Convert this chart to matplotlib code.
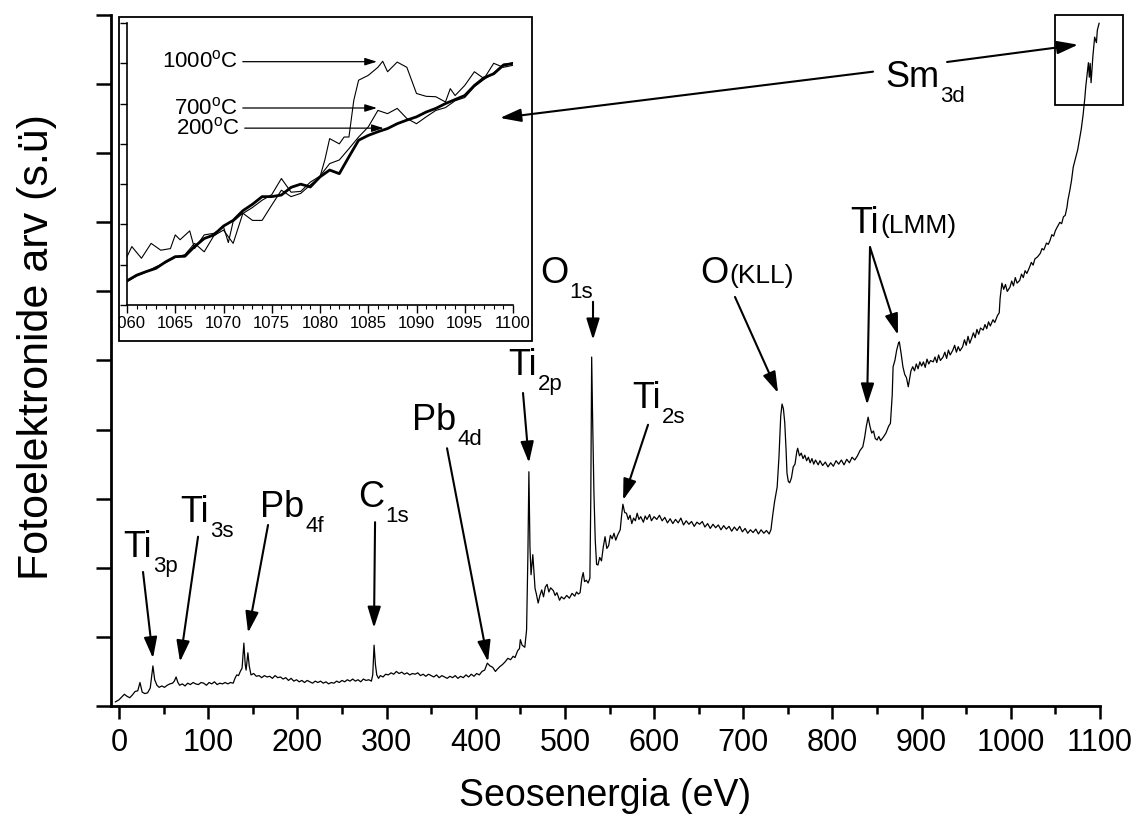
import numpy as np
import matplotlib
matplotlib.use('Agg')
import matplotlib.pyplot as plt
from matplotlib.patches import Rectangle
from matplotlib.transforms import Bbox, TransformedBbox

plt.rcParams['font.family'] = ['Liberation Sans', 'DejaVu Sans']
plt.rcParams['mathtext.fontset'] = 'custom'
plt.rcParams['mathtext.rm'] = 'Liberation Sans'

# survey spectrum, (binding energy eV, intensity a.u.)
survey = [
    (-4, 0.06), (0, 0.09), (3, 0.13), (6, 0.17), (9, 0.14), (12, 0.12), (15, 0.16), (18, 0.21),
    (21, 0.22), (23.5, 0.34), (26, 0.2), (29, 0.18), (32, 0.19), (35, 0.26), (38, 0.58), (40, 0.38),
    (42.5, 0.3), (45, 0.27), (48, 0.29), (51, 0.27), (54, 0.3), (57, 0.32), (60, 0.33), (62, 0.36),
    (64, 0.42), (66, 0.34), (68, 0.3), (71, 0.32), (74, 0.29), (77, 0.33), (80, 0.31), (83, 0.34),
    (86, 0.32), (89, 0.31), (92, 0.34), (95, 0.33), (98, 0.3), (101, 0.34), (104, 0.32), (107, 0.35),
    (110, 0.31), (113, 0.33), (116, 0.32), (119, 0.34), (122, 0.32), (125, 0.34), (128, 0.33),
    (130, 0.4), (132, 0.45), (134, 0.44), (136, 0.5), (138, 0.55), (140, 0.91), (141.5, 0.6),
    (142.5, 0.52), (144.5, 0.77), (146, 0.58), (148, 0.45), (151, 0.47), (154, 0.43), (157, 0.44),
    (160, 0.41), (163, 0.44), (166, 0.42), (169, 0.43), (172, 0.4), (175, 0.44), (178, 0.41),
    (181, 0.42), (184, 0.39), (187, 0.41), (190, 0.37), (193, 0.4), (196, 0.36), (199, 0.38),
    (202, 0.35), (205, 0.37), (208, 0.34), (211, 0.37), (214, 0.35), (217, 0.33), (220, 0.36),
    (223, 0.34), (226, 0.36), (229, 0.33), (232, 0.35), (235, 0.32), (238, 0.34), (241, 0.33),
    (244, 0.36), (247, 0.34), (250, 0.37), (253, 0.35), (256, 0.38), (259, 0.36), (262, 0.39),
    (265, 0.36), (268, 0.38), (271, 0.35), (274, 0.39), (277, 0.37), (280, 0.38), (283, 0.36),
    (284.5, 0.45), (286, 0.88), (287.5, 0.6), (289, 0.45), (291, 0.4), (293, 0.44), (296, 0.42),
    (299, 0.46), (302, 0.45), (305, 0.48), (308, 0.46), (311, 0.5), (314, 0.47), (317, 0.49),
    (320, 0.46), (323, 0.48), (326, 0.45), (329, 0.47), (332, 0.46), (335, 0.48), (338, 0.44),
    (341, 0.46), (344, 0.43), (347, 0.46), (350, 0.44), (353, 0.42), (356, 0.45), (359, 0.41),
    (362, 0.44), (365, 0.42), (368, 0.4), (371, 0.43), (374, 0.41), (377, 0.44), (380, 0.4),
    (383, 0.43), (386, 0.41), (389, 0.45), (392, 0.42), (395, 0.46), (398, 0.43), (401, 0.47),
    (404, 0.45), (407, 0.5), (410, 0.52), (413, 0.62), (416, 0.58), (419, 0.56), (422, 0.5),
    (424, 0.53), (427, 0.57), (430, 0.6), (433, 0.64), (436, 0.69), (439, 0.67), (442, 0.72),
    (444, 0.7), (447, 0.8), (449, 0.83), (450, 0.96), (452, 0.88), (455, 0.85), (457, 1.1),
    (458.5, 2.2), (459.6, 3.39), (460.8, 2.3), (462, 1.9), (463, 2.05), (464, 2.19), (465.5, 1.9),
    (466.5, 1.7), (468, 1.62), (470, 1.49), (472, 1.6), (474, 1.68), (476, 1.58), (478, 1.72),
    (480, 1.76), (482, 1.65), (484, 1.71), (487, 1.67), (489, 1.6), (491, 1.64), (494, 1.53),
    (496, 1.58), (499, 1.55), (502, 1.6), (505, 1.56), (508, 1.63), (511, 1.59), (513, 1.65),
    (515, 1.62), (517, 1.64), (519, 1.85), (520.5, 1.93), (522, 1.8), (524, 1.82), (526, 1.78),
    (528, 1.85), (529, 3.0), (530, 5.05), (531, 4.2), (532.5, 3.1), (534, 2.4), (535.5, 2.05),
    (537, 2.04), (539, 2.15), (541, 2.1), (543, 2.3), (545, 2.45), (547, 2.28), (549, 2.32),
    (551, 2.47), (553, 2.42), (555, 2.5), (557, 2.4), (559, 2.47), (562, 2.55), (563.5, 2.75),
    (565, 2.92), (567, 2.8), (569, 2.79), (571, 2.7), (573, 2.76), (575, 2.64), (577, 2.72),
    (579, 2.68), (581, 2.79), (583, 2.7), (585, 2.74), (588, 2.66), (590, 2.75), (592, 2.7),
    (595, 2.77), (597, 2.68), (600, 2.74), (603, 2.7), (606, 2.76), (609, 2.68), (612, 2.73),
    (615, 2.65), (618, 2.71), (621, 2.64), (624, 2.7), (627, 2.65), (630, 2.72), (633, 2.62),
    (636, 2.68), (639, 2.63), (642, 2.67), (645, 2.6), (648, 2.66), (651, 2.63), (654, 2.67),
    (657, 2.59), (660, 2.64), (663, 2.57), (666, 2.63), (669, 2.58), (672, 2.62), (675, 2.55),
    (678, 2.61), (681, 2.56), (684, 2.6), (687, 2.53), (690, 2.59), (693, 2.54), (696, 2.6),
    (699, 2.52), (702, 2.57), (705, 2.5), (708, 2.55), (711, 2.51), (714, 2.56), (717, 2.49),
    (720, 2.55), (723, 2.5), (726, 2.54), (729, 2.49), (731, 2.55), (733, 2.76), (735, 2.95),
    (738, 3.17), (740, 3.6), (742, 4.2), (743.5, 4.37), (745, 4.3), (746.5, 4.1), (748, 3.7),
    (749, 3.37), (750.5, 3.25), (752, 3.23), (754, 3.3), (756, 3.46), (758, 3.5), (760, 3.68),
    (761, 3.73), (763, 3.62), (765, 3.66), (767, 3.58), (769, 3.63), (771, 3.55), (773, 3.6),
    (775, 3.52), (777, 3.58), (779, 3.5), (781, 3.56), (784, 3.49), (786, 3.55), (789, 3.48),
    (792, 3.53), (795, 3.46), (798, 3.52), (801, 3.47), (804, 3.55), (807, 3.5), (810, 3.56),
    (813, 3.49), (816, 3.57), (819, 3.52), (822, 3.6), (825, 3.56), (828, 3.62), (831, 3.7),
    (834, 3.75), (836, 3.88), (838, 4.05), (840, 4.18), (842, 4.05), (844, 3.95), (846, 3.98),
    (848, 3.87), (850, 3.85), (852, 3.9), (854, 3.84), (857, 3.89), (860, 3.95), (863, 4.05),
    (865, 4.09), (867, 4.5), (868, 4.91), (870, 5.0), (872, 5.15), (874, 5.25), (875, 5.27),
    (877, 5.1), (879, 4.91), (881, 4.8), (883, 4.75), (885, 4.62), (886, 4.7), (888, 4.85),
    (890, 4.91), (892, 4.85), (894, 4.95), (896, 4.88), (898, 4.98), (900, 4.92), (902, 4.98),
    (904, 4.9), (906, 5.02), (908, 4.95), (910, 5.0), (913, 4.98), (915, 5.05), (917, 4.97),
    (919, 5.08), (921, 5.0), (924, 5.05), (926, 5.12), (928, 5.03), (930, 5.15), (932, 5.08),
    (935, 5.15), (937, 5.22), (939, 5.12), (941, 5.2), (943, 5.14), (946, 5.2), (948, 5.3),
    (950, 5.22), (952, 5.35), (954, 5.25), (956, 5.32), (958, 5.4), (960, 5.33), (962, 5.45),
    (964, 5.38), (966, 5.47), (969, 5.44), (971, 5.52), (973, 5.46), (975, 5.56), (977, 5.5),
    (980, 5.59), (982, 5.55), (985, 5.65), (987, 5.69), (988, 5.9), (990, 6.12), (992, 6.03),
    (994, 6.1), (996, 6.0), (999, 6.06), (1001, 6.15), (1003, 6.08), (1005, 6.2), (1007, 6.12),
    (1010, 6.16), (1012, 6.25), (1014, 6.2), (1016, 6.3), (1018, 6.26), (1021, 6.35), (1023, 6.42),
    (1025, 6.38), (1027, 6.47), (1030, 6.5), (1033, 6.55), (1035, 6.62), (1037, 6.6), (1040, 6.7),
    (1042, 6.68), (1044, 6.74), (1046, 6.82), (1048, 6.8), (1050, 6.88), (1052, 6.93), (1055, 7.0),
    (1057, 6.98), (1059, 7.08), (1061, 7.1), (1063, 7.22), (1064, 7.32), (1066, 7.45), (1068, 7.6),
    (1070, 7.8), (1072, 7.9), (1075, 8.05), (1077, 8.2), (1079, 8.35), (1081, 8.55), (1083, 8.8),
    (1084, 8.96), (1086, 9.2), (1087, 9.31), (1088, 9.1), (1089, 9.3), (1090, 9.02), (1092, 9.4),
    (1094, 9.68), (1096, 9.6), (1097, 9.78), (1099, 9.88),
]

# Sm3d region for the three annealing temperatures (inset)
inset_ev = np.arange(1060, 1101)
sm_200 = [0.6, 0.74, 0.83, 0.91, 1.07, 1.2, 1.21, 1.45, 1.65, 1.74, 1.96, 2.1, 2.34, 2.5, 2.69,
          2.69, 2.73, 2.92, 3.0, 2.93, 3.18, 3.35, 3.26, 3.68, 4.09, 4.21, 4.3, 4.38, 4.5, 4.59,
          4.67, 4.79, 4.88, 5.0, 5.1, 5.2, 5.45, 5.64, 5.74, 5.95, 6.0]
sm_700 = [0.58, 0.72, 0.82, 0.95, 1.05, 1.18, 1.25, 1.53, 1.32, 1.72, 1.86, 1.53, 2.27, 2.42, 2.6,
          2.74, 3.14, 2.8, 2.82, 3.05, 3.2, 3.51, 3.6, 3.88, 4.17, 4.42, 4.83, 4.75, 4.88, 4.63,
          4.5, 4.67, 4.83, 4.9, 5.07, 5.15, 5.42, 5.6, 5.76, 5.98, 6.0]
sm_1000 = [
    (1060, 1.2), (1060.5, 1.45), (1061.5, 1.16), (1062.5, 1.53), (1063.5, 1.36), (1064.5, 1.4),
    (1065, 1.74), (1065.5, 1.62), (1066.5, 1.84), (1067, 1.4), (1068, 1.74), (1069, 1.78),
    (1070, 1.94), (1070.5, 1.55), (1071, 2.07), (1072, 2.28), (1073, 2.1), (1074, 2.1),
    (1075, 2.48), (1076, 2.85), (1077, 2.69), (1078, 2.77), (1079, 2.98), (1080, 3.18),
    (1080.5, 3.6), (1081, 4.13), (1082, 4.0), (1082.5, 4.17), (1083, 4.17), (1083.5, 5.08),
    (1084, 5.58), (1085, 5.7), (1086, 5.9), (1086.5, 6.05), (1087, 5.79), (1088, 6.03),
    (1089, 5.9), (1090, 5.25), (1091, 5.18), (1092, 5.17), (1093, 5.04), (1093.5, 5.37),
    (1094, 5.2), (1095, 5.45), (1096, 5.79), (1097, 5.62), (1098, 6.0), (1099, 5.9), (1100, 5.95),
]
temp_labels = ['1000$^{\\mathregular{o}}$C', '700$^{\\mathregular{o}}$C', '200$^{\\mathregular{o}}$C']

fig = plt.figure(figsize=(11.36, 8.23), dpi=100)
ax = fig.add_axes([111 / 1136, 117 / 823, 989 / 1136, 691 / 823])

ev, counts = zip(*survey)
ax.plot(ev, counts, color='k', lw=0.9)

ax.set_xlim(-9, 1100)
ax.set_ylim(0, 10)
for s in ['top', 'right']:
    ax.spines[s].set_visible(False)
for s in ['left', 'bottom']:
    ax.spines[s].set_linewidth(2)
ax.set_xticks(np.arange(0, 1101, 100))
ax.set_xticks(np.arange(50, 1100, 100), minor=True)
ax.set_yticks(np.arange(0, 11, 1))
ax.tick_params(axis='x', which='major', direction='out', length=9, width=1.8, labelsize=22, pad=7)
ax.tick_params(axis='x', which='minor', direction='out', length=6, width=1.8)
ax.tick_params(axis='y', direction='out', length=11, width=1.8, labelleft=False)
ax.set_xlabel('Seosenergia (eV)', fontsize=27, labelpad=14)
ax.set_ylabel('Fotoelektronide arv (s.ü)', fontsize=31)
ax.yaxis.set_label_coords(-0.055, 0.52)

arrow = dict(arrowstyle='-|>,head_length=0.8,head_width=0.25', mutation_scale=16,
             color='k', lw=1.5, shrinkA=0, shrinkB=0)


def peak_label(x, y, main, tail, tail_size=16, dy=-5):
    t = ax.text(x, y, main, fontsize=26, va='baseline')
    ax.annotate(tail, xy=(1, 0), xycoords=t, xytext=(1, dy), textcoords='offset points',
                fontsize=tail_size, va='baseline')


def point(start, tip):
    ax.annotate('', xy=tip, xytext=start, arrowprops=arrow, annotation_clip=False)


peak_label(4.5, 2.16, 'Ti', '3p')
point((26.9, 1.94), (38.1, 0.69))
peak_label(68.4, 2.66, 'Ti', '3s')
point((88.6, 2.45), (68.4, 0.64))
peak_label(158.1, 2.74, 'Pb', '4f')
point((167.1, 2.62), (144.7, 1.06))
peak_label(268.0, 2.88, 'C', '1s')
point((287.1, 2.66), (285.9, 1.13))
peak_label(328.5, 3.99, 'Pb', '4d')
point((367.8, 3.73), (413.8, 0.64))
peak_label(436.2, 4.79, 'Ti', '2p')
point((453.0, 4.53), (459.7, 3.52))
peak_label(472.1, 6.12, 'O', '1s')
point((531.5, 5.85), (531.5, 5.30))
peak_label(575.2, 4.31, 'Ti', '2s')
point((593.2, 4.07), (565.2, 2.98))
peak_label(651.5, 6.12, 'O', '(KLL)', tail_size=19, dy=5.5)
point((690.7, 5.92), (739.0, 4.53))
peak_label(819.7, 6.85, 'Ti', '(LMM)', tail_size=19, dy=5.5)
point((842.1, 6.64), (838.8, 4.36))
point((842.1, 6.64), (873.5, 5.37))
peak_label(858.9, 8.96, 'Sm', '3d')
point((928.5, 9.32), (1075.4, 9.57))
point((845.5, 9.18), (427.2, 8.51))

# box around the Sm3d region shown in the inset
ax.add_patch(Rectangle((1049, 8.70), 77, 1.30, fill=False, lw=1.3, clip_on=False))

# inset
frame_box = (119 / 1136, (823 - 341) / 823, 413 / 1136, 324 / 823)
fig.add_artist(Rectangle(frame_box[:2], frame_box[2], frame_box[3],
                         transform=fig.transFigure, fill=False, lw=1.3))

ins = fig.add_axes([127 / 1136, (823 - 305) / 823, 386 / 1136, 282 / 823])
ins.set_facecolor('none')
ins.plot(inset_ev, sm_200, color='k', lw=2.0)
ins.plot(inset_ev, sm_700, color='k', lw=0.8)
e1000, i1000 = zip(*sm_1000)
ins.plot(e1000, i1000, color='k', lw=0.8)
ins.set_xlim(1060, 1100)
ins.set_ylim(0, 7)
for s in ['top', 'right']:
    ins.spines[s].set_visible(False)
for s in ['left', 'bottom']:
    ins.spines[s].set_linewidth(1.2)
ins.set_xticks(np.arange(1060, 1101, 5))
ins.set_xticks(np.arange(1060, 1101, 1), minor=True)
ins.set_yticks(np.arange(0, 8, 1))
ins.tick_params(axis='x', which='major', direction='out', length=6, width=1, labelsize=12, pad=2)
ins.tick_params(axis='x', which='minor', direction='out', length=3, width=0.8)
ins.tick_params(axis='y', direction='out', length=5, width=1, labelleft=False)

# the 1060 label is cut by the inset frame, as in the original
clip = TransformedBbox(Bbox.from_bounds(*frame_box), fig.transFigure)
for lab in ins.get_xticklabels():
    lab.set_clip_box(clip)
    lab.set_clip_on(True)

small = dict(arrowstyle='-|>,head_length=0.8,head_width=0.25', mutation_scale=9,
             color='k', lw=0.9, shrinkA=0, shrinkB=0)
label_y = [6.04, 4.89, 4.39]
label_x = [1071.5, 1071.5, 1071.7]
tip_x = [1085.9, 1085.9, 1086.6]
for lab, lx, ly, tx in zip(temp_labels, label_x, label_y, tip_x):
    ins.text(lx, ly, lab, fontsize=16, ha='right', va='center')
    ins.annotate('', xy=(tx, ly), xytext=(lx + 0.5, ly), arrowprops=small)

fig.savefig('out.png', dpi=100)
